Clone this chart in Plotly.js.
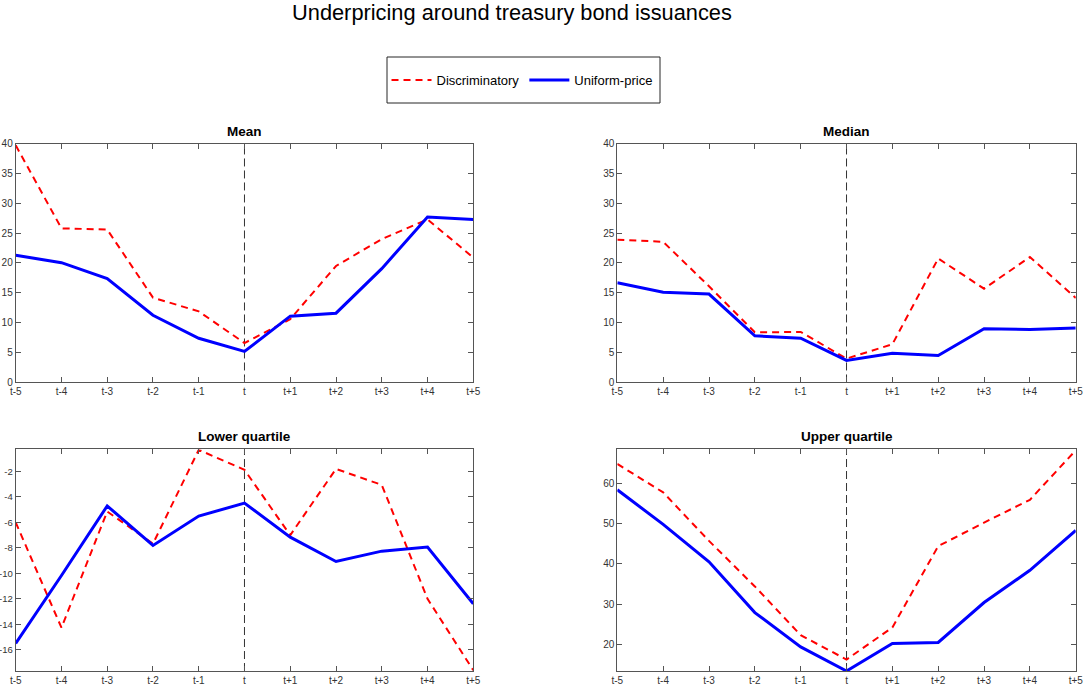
<!DOCTYPE html>
<html>
<head>
<meta charset="utf-8">
<script src="https://cdn.plot.ly/plotly-3.0.1.min.js"></script>
<style>html,body{margin:0;padding:0;background:#fff;}#chart{width:1083px;height:690px;}</style>
</head>
<body>
<div id="chart"></div>
<script>
// ---- data ----
const categories = ['t-5','t-4','t-3','t-2','t-1','t','t+1','t+2','t+3','t+4','t+5'];
const eventLabel = 't';

const meanDisc    = [39.7, 25.8, 25.6, 14.2, 11.9, 6.6, 10.6, 19.5, 24.0, 27.3, 20.9];
const meanUnif    = [21.3, 20.05, 17.4, 11.25, 7.4, 5.2, 11.1, 11.6, 19.05, 27.7, 27.3];

const medianDisc  = [23.9, 23.55, 16.1, 8.4, 8.45, 4.0, 6.4, 20.75, 15.7, 21.0, 14.15];
const medianUnif  = [16.7, 15.1, 14.8, 7.8, 7.4, 3.7, 4.9, 4.5, 9.0, 8.85, 9.1];

const lowerDisc   = [-6.0, -14.26, -5.14, -7.67, -0.3, -1.87, -7.0, -1.8, -3.05, -11.99, -17.6];
const lowerUnif   = [-15.5, -10.16, -4.7, -7.8, -5.5, -4.48, -7.15, -9.06, -8.25, -7.93, -12.38];

const upperDisc   = [64.8, 57.75, 45.7, 34.4, 22.3, 16.25, 24.2, 44.4, 50.25, 55.9, 68.2];
const upperUnif   = [58.4, 49.8, 40.5, 27.9, 19.4, 13.4, 20.25, 20.5, 30.4, 38.4, 48.3];

const meanTicks   = [0, 5, 10, 15, 20, 25, 30, 35, 40];
const medianTicks = [0, 5, 10, 15, 20, 25, 30, 35, 40];
const lowerTicks  = [-16, -14, -12, -10, -8, -6, -4, -2];
const upperTicks  = [20, 30, 40, 50, 60];

const panelTitles = ['Mean', 'Median', 'Lower quartile', 'Upper quartile'];
const seriesNames = ['Discriminatory', 'Uniform-price'];
const chartTitle = 'Underpricing around treasury bond issuances';

// ---- layout helpers ----
const FONT = 'Liberation Sans, Arial, sans-serif';
const panels = [
  {disc: meanDisc,   unif: meanUnif,   ticks: meanTicks,   fs: 10,  xa: 'x',  ya: 'y',  xd: [0.0145, 0.437], yd: [0.4457, 0.792], yr: [0, 40]},
  {disc: medianDisc, unif: medianUnif, ticks: medianTicks, fs: 10,  xa: 'x2', ya: 'y2', xd: [0.570, 0.9933], yd: [0.4457, 0.792], yr: [0, 40]},
  {disc: lowerDisc,  unif: lowerUnif,  ticks: lowerTicks,  fs: 9.5, xa: 'x3', ya: 'y3', xd: [0.0145, 0.437], yd: [0.0275, 0.3486], yr: [-17.66, -0.27]},
  {disc: upperDisc,  unif: upperUnif,  ticks: upperTicks,  fs: 10,  xa: 'x4', ya: 'y4', xd: [0.570, 0.9933], yd: [0.0275, 0.3486], yr: [13.4, 68.4]}
];

const data = [];
const layout = {
  width: 1083, height: 690,
  margin: {l: 0, r: 0, t: 0, b: 0},
  paper_bgcolor: '#ffffff', plot_bgcolor: '#ffffff',
  font: {family: FONT, size: 10, color: '#262626'},
  title: {text: chartTitle, font: {family: FONT, size: 21.8, color: '#000'}, x: 0.4727, xanchor: 'center', y: 0.982, yanchor: 'middle'},
  showlegend: true,
  legend: {orientation: 'h', x: 0.482, xanchor: 'center', y: 1 - 80/690, yanchor: 'middle',
           font: {family: FONT, size: 13, color: '#000'}, bgcolor: 'rgba(0,0,0,0)', borderwidth: 0,
           itemwidth: 40, tracegroupgap: 0},
  shapes: [
    {type: 'rect', xref: 'paper', yref: 'paper', x0: 387/1083, x1: 660/1083, y0: 1 - 103/690, y1: 1 - 57/690,
     line: {color: '#262626', width: 1}, fillcolor: 'rgba(0,0,0,0)', layer: 'below'}
  ],
  annotations: []
};

const tIndex = categories.indexOf(eventLabel);

panels.forEach((p, i) => {
  const suf = i === 0 ? '' : String(i + 1);
  data.push({
    type: 'scatter', mode: 'lines', x: categories, y: p.disc, xaxis: p.xa, yaxis: p.ya,
    name: seriesNames[0], showlegend: i === 0, legendgroup: 'd',
    line: {color: '#ff0000', width: 2, dash: '7px,5px'}
  });
  data.push({
    type: 'scatter', mode: 'lines', x: categories, y: p.unif, xaxis: p.xa, yaxis: p.ya,
    name: seriesNames[1], showlegend: i === 0, legendgroup: 'u',
    line: {color: '#0000ff', width: 3}
  });
  layout['xaxis' + suf] = {
    domain: p.xd, anchor: p.ya, type: 'category', range: [0, categories.length - 1],
    showgrid: false, zeroline: false, showline: true, linecolor: '#555', linewidth: 1, mirror: 'ticks',
    ticks: 'inside', ticklen: 5, tickcolor: '#555', tickfont: {family: FONT, size: 10, color: '#333'},
    ticklabelstandoff: 0, fixedrange: true
  };
  layout['yaxis' + suf] = {
    domain: p.yd, anchor: p.xa, range: p.yr, tickmode: 'array', tickvals: p.ticks,
    ticktext: p.ticks.map(v => String(v)),
    showgrid: false, zeroline: false, showline: true, linecolor: '#555', linewidth: 1, mirror: 'ticks',
    ticks: 'inside', ticklen: 5, tickcolor: '#555', tickfont: {family: FONT, size: p.fs, color: '#333'},
    ticklabelstandoff: 0, fixedrange: true
  };
  layout.shapes.push({
    type: 'line', xref: p.xa, yref: p.ya + ' domain', x0: tIndex, x1: tIndex, y0: 0, y1: 1,
    line: {color: '#333', width: 1, dash: '8px,4px'}, layer: 'below'
  });
  layout.annotations.push({
    text: '<b>' + panelTitles[i] + '</b>', xref: 'paper', yref: 'paper',
    x: (p.xd[0] + p.xd[1]) / 2, xanchor: 'center', y: p.yd[1], yanchor: 'bottom', yshift: 3,
    showarrow: false, font: {family: FONT, size: 13.5, color: '#000'}
  });
});

Plotly.newPlot('chart', data, layout, {displayModeBar: false, staticPlot: true});
</script>
</body>
</html>
